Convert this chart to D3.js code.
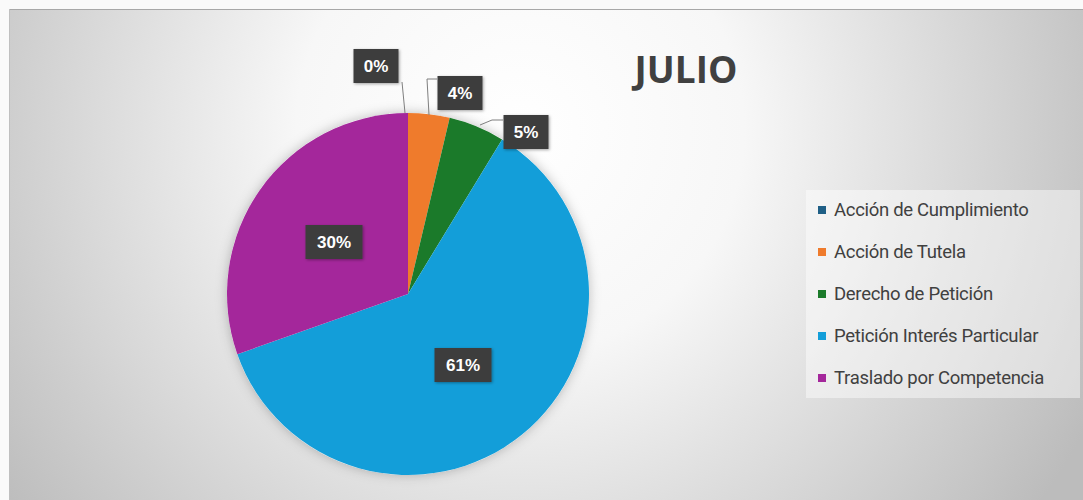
<!DOCTYPE html>
<html>
<head>
<meta charset="utf-8">
<script src="https://cdn.jsdelivr.net/npm/d3@7"></script>
<style>
  html, body { margin: 0; padding: 0; background: #fafafa; }
  svg { display: block; }
</style>
</head>
<body>
<svg id="chart"></svg>
<script>
// data (share of total, %)
const categories = ["Acción de Cumplimiento", "Acción de Tutela", "Derecho de Petición", "Petición Interés Particular", "Traslado por Competencia"];
const values = [0, 3.7, 5.0, 60.9, 30.4];
const colors = ["#1f5f86", "#ef7b2c", "#1b7a2a", "#139ed9", "#a4279b"];
const title = "JULIO";

const W = 1083, H = 500;
const svg = d3.select("#chart").attr("width", W).attr("height", H);
const defs = svg.append("defs");

// radial background
const grad = defs.append("radialGradient")
  .attr("id", "bg")
  .attr("gradientUnits", "userSpaceOnUse")
  .attr("cx", 520).attr("cy", 130).attr("r", 640);
grad.append("stop").attr("offset", "0").attr("stop-color", "#ffffff");
grad.append("stop").attr("offset", "0.35").attr("stop-color", "#f7f7f7");
grad.append("stop").attr("offset", "1").attr("stop-color", "#bcbcbc");

const shadow = defs.append("filter").attr("id", "glow")
  .attr("x", "-20%").attr("y", "-20%").attr("width", "140%").attr("height", "140%");
shadow.append("feDropShadow").attr("dx", 0).attr("dy", 0)
  .attr("stdDeviation", 6).attr("flood-color", "#000").attr("flood-opacity", 0.25);

const boxShadow = defs.append("filter").attr("id", "boxsh")
  .attr("x", "-30%").attr("y", "-30%").attr("width", "160%").attr("height", "160%");
boxShadow.append("feDropShadow").attr("dx", 1).attr("dy", 1)
  .attr("stdDeviation", 1.5).attr("flood-color", "#000").attr("flood-opacity", 0.35);

svg.append("rect")
  .attr("x", 9).attr("y", 9).attr("width", W - 9).attr("height", H - 9)
  .attr("fill", "url(#bg)");
svg.append("line")
  .attr("x1", 9).attr("x2", W).attr("y1", 9.5).attr("y2", 9.5)
  .attr("stroke", "#a8a8a8").attr("stroke-width", 1);
svg.append("line")
  .attr("x1", 9.5).attr("x2", 9.5).attr("y1", 9).attr("y2", H)
  .attr("stroke", "#c0c0c0").attr("stroke-width", 1);

// pie
const cx = 408, cy = 294, radius = 181;
const color = d3.scaleOrdinal().domain(categories).range(colors);
const pie = d3.pie().sort(null).value(d => d.value);
const arcs = pie(categories.map((c, i) => ({key: c, value: values[i]})));
const arc = d3.arc().innerRadius(0).outerRadius(radius);

const g = svg.append("g").attr("transform", `translate(${cx},${cy})`);
g.append("circle").attr("r", radius).attr("fill", "#fff").attr("filter", "url(#glow)");
g.selectAll("path.slice")
  .data(arcs.filter(d => d.data.value > 0))
  .join("path")
  .attr("class", "slice")
  .attr("d", arc)
  .attr("fill", d => color(d.data.key));

// labels: inside for big slices, outside with leader lines for small ones
const fmt = v => Math.round(v) + "%";
const labelPos = {
  "Acción de Cumplimiento": {x: 376, y: 66, leader: [[405, 113], [402, 82]]},
  "Acción de Tutela": {x: 460, y: 93, leader: [[429, 115], [427, 79], [437, 79]]},
  "Derecho de Petición": {x: 526, y: 132, leader: [[480, 125], [492, 120], [503, 120]]},
  "Petición Interés Particular": {x: 463, y: 365},
  "Traslado por Competencia": {x: 334, y: 242}
};

const lbl = svg.append("g");
arcs.forEach(d => {
  const p = labelPos[d.data.key];
  if (p.leader) {
    lbl.append("path")
      .attr("d", d3.line()(p.leader))
      .attr("fill", "none")
      .attr("stroke", "#7f7f7f")
      .attr("stroke-width", 1);
  }
  const t = fmt(d.data.value);
  const bw = t.length > 2 ? 57 : 45, bh = 34;
  lbl.append("rect")
    .attr("x", p.x - bw / 2).attr("y", p.y - bh / 2)
    .attr("width", bw).attr("height", bh)
    .attr("fill", "#3d3d3d")
    .attr("filter", "url(#boxsh)");
  lbl.append("text")
    .attr("x", p.x).attr("y", p.y)
    .attr("dy", "0.36em")
    .attr("text-anchor", "middle")
    .style("font-family", "Liberation Sans, Arial, sans-serif")
    .style("font-weight", "bold")
    .style("font-size", "17px")
    .style("fill", "#ffffff")
    .text(t);
});

// title
svg.append("text")
  .attr("x", 686).attr("y", 83)
  .attr("text-anchor", "middle")
  .style("font-family", "Open Sans, sans-serif")
  .style("font-weight", "bold")
  .style("font-size", "37px")
  .style("fill", "#404040")
  .text(title);

// legend
const legend = svg.append("g");
legend.append("rect")
  .attr("x", 806).attr("y", 190).attr("width", 274).attr("height", 208)
  .attr("fill", "#ffffff").attr("fill-opacity", 0.45);
const legY = d3.scalePoint().domain(categories).range([210, 378]);
const items = legend.selectAll("g.item")
  .data(categories)
  .join("g")
  .attr("class", "item")
  .attr("transform", d => `translate(818,${legY(d)})`);
items.append("rect")
  .attr("x", 0).attr("y", -4).attr("width", 8).attr("height", 8)
  .attr("fill", d => color(d));
items.append("text")
  .attr("x", 16).attr("y", 0)
  .attr("dy", "0.35em")
  .style("font-family", "Roboto, sans-serif")
  .style("font-size", "18.5px")
  .style("letter-spacing", "-0.3px")
  .style("fill", "#404040")
  .text(d => d);
</script>
</body>
</html>
